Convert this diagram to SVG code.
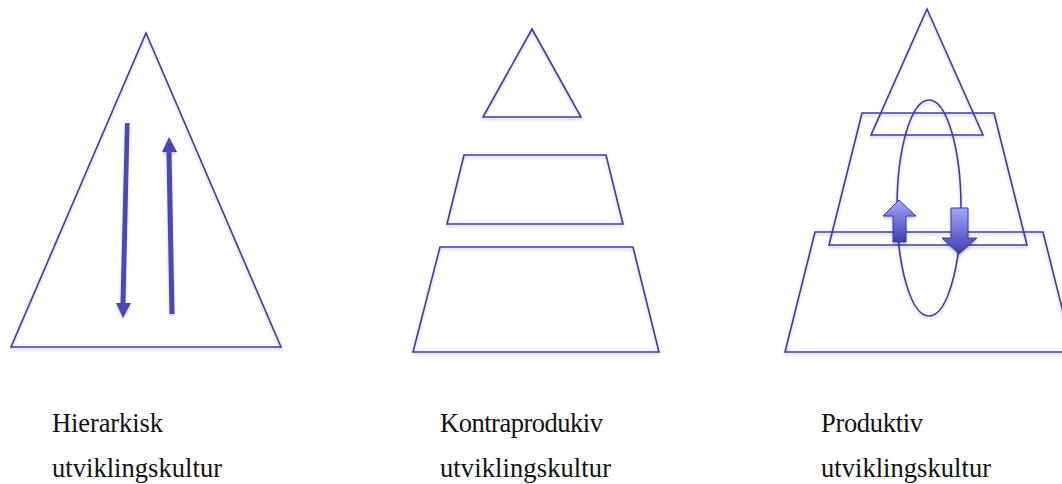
<svg xmlns="http://www.w3.org/2000/svg" width="1062" height="484" viewBox="0 0 1062 484">
<style>
.s{fill:none;stroke:#3d3da8;stroke-width:1.6;stroke-linejoin:miter;filter:url(#sh)}
.a{fill:#4848ae;stroke:none;filter:url(#sh)}
.b{fill:url(#g);stroke:#3a3aa0;stroke-width:1;filter:url(#sh)}
.t{font-family:"Liberation Serif","Times New Roman",serif;font-size:26.5px;fill:#111}
</style>
<defs>
<filter id="sh" x="-20%" y="-20%" width="140%" height="140%">
<feDropShadow dx="0" dy="2" stdDeviation="1.5" flood-color="#000" flood-opacity="0.22"/>
</filter>
<linearGradient id="g" x1="0" y1="0" x2="0" y2="1">
<stop offset="0" stop-color="#a3a7ff"/>
<stop offset="1" stop-color="#3c3eae"/>
</linearGradient>
</defs>
<g id="hierarkisk">
<polygon class="s" points="146,33 281,347 11,347"/>
<polygon class="a" points="125,123 129.5,123 125.5,303 131,303 123,318 116,303 120.5,303"/>
<polygon class="a" points="169,137 177,152 171.5,152 174.5,314 169.5,314 166.5,152 162,152"/>
</g>
<g id="kontraproduktiv">
<polygon class="s" points="532,29 581,117 483,117"/>
<polygon class="s" points="464,155 606,155 623,224 447,224"/>
<polygon class="s" points="440,247 633,247 659,352 413,352"/>
</g>
<g id="produktiv">
<polygon class="s" points="927,9 983,135 871,135"/>
<polygon class="s" points="862,113 994,113 1027,245 829,245"/>
<polygon class="s" points="815,232 1043,232 1073,352 785,352"/>
<ellipse class="s" cx="929" cy="208" rx="32" ry="108"/>
<polygon class="b" points="899,200 916,216 906,216 906,242 893,242 893,216 883,216"/>
<polygon class="b" points="951,208 968,208 968,238 977,238 959,254 942,238 951,238"/>
</g>
<g id="labels">
<text class="t" x="52" y="432" textLength="111" lengthAdjust="spacing">Hierarkisk</text>
<text class="t" x="52" y="477" textLength="170" lengthAdjust="spacing">utviklingskultur</text>
<text class="t" x="440" y="432" textLength="163" lengthAdjust="spacing">Kontraprodukiv</text>
<text class="t" x="440" y="477" textLength="171" lengthAdjust="spacing">utviklingskultur</text>
<text class="t" x="821" y="432" textLength="102" lengthAdjust="spacing">Produktiv</text>
<text class="t" x="821" y="477" textLength="170" lengthAdjust="spacing">utviklingskultur</text>
</g>
</svg>
